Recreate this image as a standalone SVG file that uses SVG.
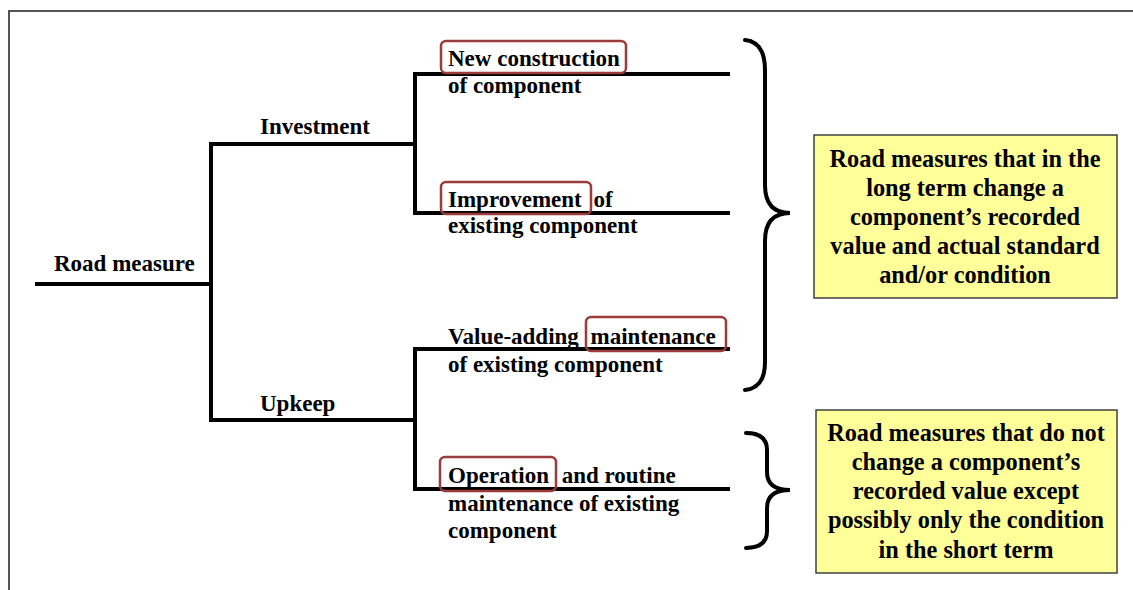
<svg xmlns="http://www.w3.org/2000/svg" width="1133" height="590" viewBox="0 0 1133 590">
<style>
.t{font-family:'Liberation Serif','Times New Roman','DejaVu Serif',serif;font-weight:700;font-size:23px;fill:#000}
.b{font-size:24.3px}
.c{text-anchor:middle}
.ln{stroke:#000;stroke-width:4;fill:none;stroke-linecap:butt}
.hl{fill:none;stroke:#9b3b3b;stroke-width:2.5}
.box{fill:#ffff99;stroke:#404040;stroke-width:1.5}
.br{fill:none;stroke:#000;stroke-width:4;stroke-linecap:round}
</style>
<rect x="0" y="0" width="1133" height="590" fill="#fff"/>
<path d="M9 590 V11 H1133" fill="none" stroke="#555" stroke-width="2"/>
<g id="connectors">
<path class="ln" d="M35 284 H211 M211 142 V422 M209 144 H415 M209 420 H415 M415 72 V215 M413 74 H730 M413 213 H730 M415 347 V491 M413 349 H730 M413 489 H730"/>
</g>
<g id="root"><text class="t" x="54" y="271">Road measure</text></g>
<g id="investment"><text class="t" x="260" y="134">Investment</text></g>
<g id="upkeep"><text class="t" x="260" y="411">Upkeep</text></g>
<g id="new-construction">
<rect class="hl" x="441" y="41" width="185" height="32" rx="5"/>
<text class="t" x="448" y="66">New construction</text>
<text class="t" x="448" y="93">of component</text>
</g>
<g id="improvement">
<rect class="hl" x="441" y="182" width="150" height="32" rx="5"/>
<text class="t" x="448" y="207">Improvement <tspan dx="6">of</tspan></text>
<text class="t" x="448" y="233">existing component</text>
</g>
<g id="value-adding">
<rect class="hl" x="586" y="317" width="140" height="34" rx="5"/>
<text class="t" x="448" y="344">Value-adding <tspan dx="6">maintenance</tspan></text>
<text class="t" x="448" y="372">of existing component</text>
</g>
<g id="operation">
<rect class="hl" x="440" y="457" width="116" height="34" rx="5"/>
<text class="t" x="448" y="483">Operation <tspan dx="7">and routine</tspan></text>
<text class="t" x="448" y="511">maintenance of existing</text>
<text class="t" x="448" y="538">component</text>
</g>
<g id="brace-long">
<path class="br" d="M745 40 Q765 42 765 70 V185 Q765 213 790 213 Q765 213 765 241 V362 Q765 388 745 390"/>
</g>
<g id="brace-short">
<path class="br" d="M746 433 Q767 433 767 450 V472 Q767 490 790 490 Q767 490 767 508 V531 Q767 548 746 548"/>
</g>
<g id="note-long">
<rect class="box" x="814" y="135" width="303" height="163"/>
<text class="t b c" x="965" y="167">Road measures that in the</text>
<text class="t b c" x="965" y="196">long term change a</text>
<text class="t b c" x="965" y="225">component’s recorded</text>
<text class="t b c" x="965" y="254">value and actual standard</text>
<text class="t b c" x="965" y="283">and/or condition</text>
</g>
<g id="note-short">
<rect class="box" x="816" y="410" width="301" height="163"/>
<text class="t b c" x="966" y="441">Road measures that do not</text>
<text class="t b c" x="966" y="470">change a component’s</text>
<text class="t b c" x="966" y="499">recorded value except</text>
<text class="t b c" x="966" y="528">possibly only the condition</text>
<text class="t b c" x="966" y="558">in the short term</text>
</g>
</svg>
